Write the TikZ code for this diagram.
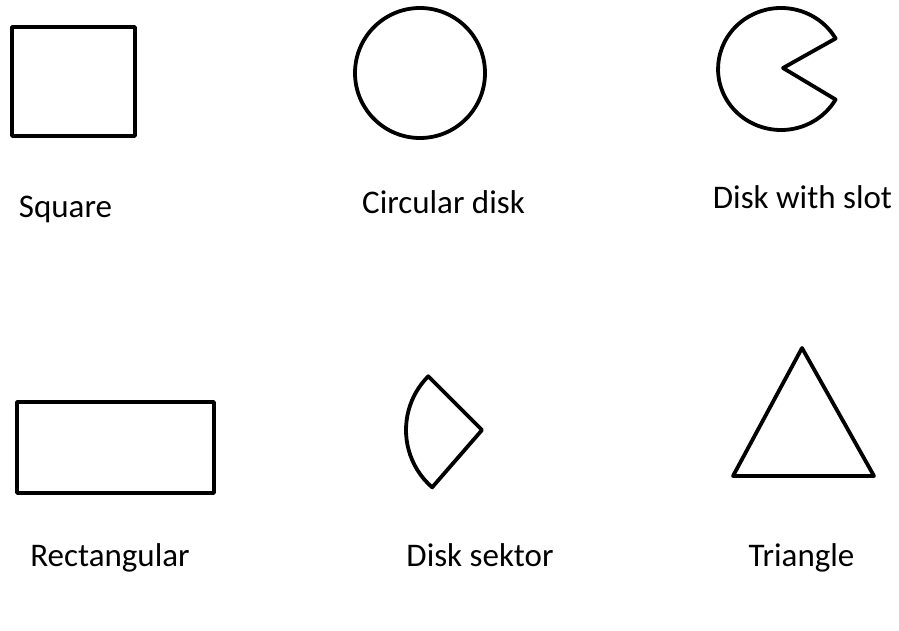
\documentclass[tikz,border=0pt]{standalone}
\usepackage{fontspec}
\setmainfont{Carlito}
\usepackage{tikz}

\begin{document}
\begin{tikzpicture}[
      x=1pt, y=-1pt,
      outline/.style={draw, line width=3.8pt, line join=round},
      lbl/.style={anchor=base, inner sep=0pt, font=\fontsize{33}{40}\selectfont}
    ]
      \useasboundingbox (0,0) rectangle (899,631);
      % upper row
      \draw[outline] (12,27) rectangle (135,136);
      \draw[outline] (420,73) circle[radius=65];
      \draw[outline] (783,68) -- (835.6,38.5) arc[start angle=-30, end angle=-330, x radius=63, y radius=61] -- cycle;
      \node[lbl] (square) at (65.5,217) {Square};
      \node[lbl] (circ) at (443.5,213) {Circular disk};
      \node[lbl] (slot) at (802.5,208) {Disk with slot};
      % lower row
      \draw[outline] (17,402) rectangle (214,493);
      \draw[outline] (482,430) -- ++(-135:76) arc[start angle=-135, end angle=-229, radius=76] -- cycle;
      \draw[outline] (802,348) -- (733,476) -- (874,476) -- cycle;
      \node[lbl] (rect) at (110,566) {Rectangular};
      \node[lbl] (sektor) at (480,566) {Disk sektor};
      \node[lbl] (tri) at (801.5,566) {Triangle};
\end{tikzpicture}
\end{document}
